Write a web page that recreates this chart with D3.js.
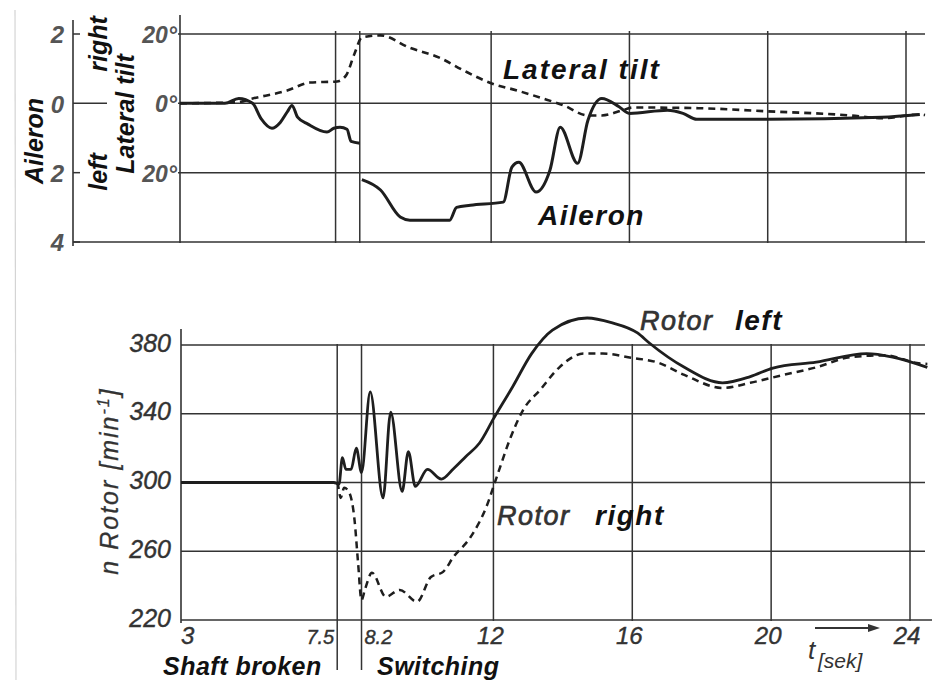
<!DOCTYPE html>
<html>
<head>
<meta charset="utf-8">
<script src="https://cdn.jsdelivr.net/npm/d3@7"></script>
<style>
  body { margin: 0; background: #fff; }
  svg { display: block; }
</style>
</head>
<body>
<div id="chart"></div>
<script>
// time axis (seconds)
const timeTicks = [3, 7.5, 8.2, 12, 16, 20, 24];
const timeLabels = ["3", "7.5", "8.2", "12", "16", "20", "24"];

// top panel scales: aileron (signed, right = +) and lateral tilt (deg)
const aileronTicks = [2, 0, -2, -4];
const aileronLabels = ["2", "0", "2", "4"];
const tiltTicks = [20, 0, -20];
const tiltLabels = ["20°", "0°", "20°"];

// bottom panel
const rpmTicks = [220, 260, 300, 340, 380];

// lateral tilt (dashed), degrees
const tiltT = [3, 4.65, 5.1, 6.1, 6.76, 7.54, 7.8, 8.05, 8.26, 8.8, 9.65, 10.5, 11.2, 12, 12.75, 13.5, 14.1, 14.8, 15.2, 15.8, 16.1, 18, 20, 22.4, 23.3, 24.4, 24.55];
const tiltV = [0, 0.3, 1.4, 3.7, 6, 6.3, 8, 14.4, 19, 19.6, 16, 13.2, 9.5, 5.8, 3.7, 1.4, -0.6, -3.5, -3.5, -2, -1.2, -1.4, -2.3, -3.5, -4.3, -3.2, -3.4];

// aileron (solid), null = pen lifted while switching
const aileronT = [3, 4.3, 4.7, 5.1, 5.35, 5.66, 5.9, 6.1, 6.24, 6.4, 6.7, 7.25, 7.45, 7.63, 7.83, 7.95, 8.2, 8.23, 8.26, 8.8, 9.37, 9.65, 10.8, 11.0, 11.4, 12.35, 12.6, 12.8, 13.3, 13.7, 14.0, 14.5, 14.8, 15.2, 15.7, 16.0, 17.1, 17.55, 17.95, 20, 23.3, 24.4];
const aileronV = [0, 0, 0.14, 0, -0.45, -0.72, -0.55, -0.25, -0.06, -0.4, -0.6, -0.83, -0.72, -0.69, -0.75, -1.1, -1.15, null, -2.2, -2.5, -3.28, -3.37, -3.37, -3.0, -2.94, -2.85, -1.84, -1.7, -2.56, -1.93, -0.69, -1.73, -0.49, 0.14, -0.1, -0.29, -0.2, -0.29, -0.46, -0.46, -0.4, -0.32];

// rotor speed, min^-1
const rotorLeftT = [3, 7.4, 7.55, 7.65, 7.75, 7.9, 8.05, 8.2, 8.45, 8.82, 9.04, 9.37, 9.55, 9.75, 10.1, 10.5, 10.85, 11.2, 11.6, 12, 12.55, 13.1, 13.7, 14.7, 15.4, 16.15, 16.5, 17.5, 18.6, 19.4, 20.05, 21.3, 22.75, 23.5, 24.5];
const rotorLeftV = [300, 300, 299, 314.5, 307.6, 307.6, 320, 305.8, 352.7, 291, 341, 294.8, 318, 297.7, 307.6, 302, 308, 315, 323, 337, 355.6, 375, 388.7, 395.7, 393, 387, 381, 367, 358, 361.6, 366.6, 370, 375, 373, 367];

const rotorRightT = [3, 7.5, 7.6, 7.7, 7.85, 8.0, 8.1, 8.2, 8.3, 8.5, 8.9, 9.3, 9.8, 10.2, 10.55, 10.85, 11.35, 11.8, 12.1, 12.5, 12.85, 13.35, 13.9, 14.6, 15.15, 16.0, 16.7, 17.5, 18.6, 19.4, 20.35, 21.3, 22.3, 23.3, 24.2, 24.5];
const rotorRightV = [300, 300, 291, 297, 294, 278, 253.5, 231.6, 237.8, 247.5, 233.5, 237.5, 230.6, 245, 248, 256.7, 268.5, 286, 303.5, 326.5, 342, 354, 367, 375, 375, 372.5, 370, 362.6, 355, 358, 362.6, 367, 373, 374, 369.5, 369];

const W = 937, H = 684;
const ink = "#1e1e1e";
const grid = "#333";
const font = "'Liberation Sans', Arial, sans-serif";

const svg = d3.select("#chart").append("svg")
  .attr("width", W).attr("height", H)
  .attr("viewBox", `0 0 ${W} ${H}`);

svg.append("rect").attr("width", W).attr("height", H).attr("fill", "#fff");
// scan edge
svg.append("line").attr("x1", 15).attr("x2", 16).attr("y1", 10).attr("y2", 680)
  .attr("stroke", "#d4d4d4").attr("stroke-width", 1.2);

// ---------- top panel ----------
const xTop = d3.scaleLinear().domain([3, 24]).range([180, 906]);
const yAil = d3.scaleLinear().domain([-4, 2]).range([242, 34]);
const yTilt = d3.scaleLinear().domain([-40, 20]).range([242, 34]);

const topG = svg.append("g");

// horizontal grid
topG.selectAll(".hgrid").data([20, 0, -20, -40]).enter().append("line")
  .attr("x1", (d) => (d === -40 ? 73 : 178)).attr("x2", 925)
  .attr("y1", (d) => yTilt(d)).attr("y2", (d) => yTilt(d))
  .attr("stroke", grid).attr("stroke-width", 1.5);

// vertical grid
topG.selectAll(".vgrid").data(timeTicks.slice(1)).enter().append("line")
  .attr("x1", (d) => xTop(d)).attr("x2", (d) => xTop(d))
  .attr("y1", 31).attr("y2", 243)
  .attr("stroke", grid).attr("stroke-width", 1.5);

// tilt axis line
topG.append("line").attr("x1", xTop(3)).attr("x2", xTop(3)).attr("y1", 15).attr("y2", 243)
  .attr("stroke", grid).attr("stroke-width", 1.6);

// aileron axis (separate line on the far left)
topG.append("line").attr("x1", 73).attr("x2", 73).attr("y1", 20).attr("y2", 246)
  .attr("stroke", grid).attr("stroke-width", 1.6);
topG.selectAll(".ailtick").data(aileronTicks).enter().append("line")
  .attr("x1", 73).attr("x2", (d) => (d === 0 ? 107 : 80))
  .attr("y1", (d) => yAil(d)).attr("y2", (d) => yAil(d))
  .attr("stroke", grid).attr("stroke-width", 1.5);

topG.selectAll(".aillab").data(aileronTicks).enter().append("text")
  .attr("x", 64).attr("y", (d) => yAil(d) + 3)
  .attr("text-anchor", "end").attr("dominant-baseline", "middle")
  .attr("font-family", font).attr("font-style", "italic").attr("font-weight", "bold")
  .attr("font-size", 24).attr("fill", "#555")
  .text((d, i) => aileronLabels[i]);

topG.selectAll(".tiltlab").data(tiltTicks).enter().append("text")
  .attr("x", 177).attr("y", (d) => yTilt(d) + 3)
  .attr("text-anchor", "end").attr("dominant-baseline", "middle")
  .attr("font-family", font).attr("font-style", "italic").attr("font-weight", "bold")
  .attr("font-size", 23).attr("fill", "#555")
  .text((d, i) => tiltLabels[i]);

// rotated axis titles
const vtitle = (x, y, txt, size) =>
  svg.append("text")
    .attr("transform", `translate(${x},${y}) rotate(-90)`)
    .attr("text-anchor", "middle")
    .attr("font-family", font).attr("font-style", "italic").attr("font-weight", "bold")
    .attr("font-size", size).attr("fill", "#111")
    .text(txt);
vtitle(43, 141, "Aileron", 25);
vtitle(107, 44, "right", 25);
vtitle(107, 172, "left", 25);
vtitle(134, 114, "Lateral tilt", 25);

const lineTop = (ys) => d3.line()
  .defined((d) => d[1] !== null)
  .x((d) => xTop(d[0])).y((d) => ys(d[1]))
  .curve(d3.curveMonotoneX);

topG.append("path")
  .datum(tiltT.map((t, i) => [t, tiltV[i]]))
  .attr("d", lineTop(yTilt))
  .attr("fill", "none").attr("stroke", ink).attr("stroke-width", 2.6)
  .attr("stroke-dasharray", "7,5");

topG.append("path")
  .datum(aileronT.map((t, i) => [t, aileronV[i]]))
  .attr("d", lineTop(yAil))
  .attr("fill", "none").attr("stroke", ink).attr("stroke-width", 3)
  .attr("stroke-linejoin", "round");

const seriesLabel = (x, y, txt, size, extra) =>
  svg.append("text").attr("x", x).attr("y", y)
    .attr("font-family", font).attr("font-style", "italic").attr("font-weight", "bold")
    .attr("font-size", size).attr("fill", "#111")
    .attr("letter-spacing", extra || 0)
    .text(txt);

seriesLabel(503, 79, "Lateral tilt", 28, 2);
seriesLabel(538, 225, "Aileron", 28, 1.5);

// ---------- bottom panel ----------
const xBot = d3.scaleLinear().domain([3, 24]).range([181, 910]);
const yRpm = d3.scaleLinear().domain([220, 380]).range([620, 345]);

const botG = svg.append("g");

botG.selectAll(".hgrid").data(rpmTicks).enter().append("line")
  .attr("x1", xBot(3)).attr("x2", (d) => (d === 220 ? 932 : 925))
  .attr("y1", (d) => yRpm(d)).attr("y2", (d) => yRpm(d))
  .attr("stroke", grid).attr("stroke-width", 1.5);

botG.selectAll(".vgrid").data(timeTicks.slice(1)).enter().append("line")
  .attr("x1", (d) => xBot(d)).attr("x2", (d) => xBot(d))
  .attr("y1", 344)
  .attr("y2", (d) => (d === 7.5 || d === 8.2 ? 670 : 621))
  .attr("stroke", grid).attr("stroke-width", 1.5);

botG.append("line").attr("x1", xBot(3)).attr("x2", xBot(3)).attr("y1", 329).attr("y2", 623)
  .attr("stroke", grid).attr("stroke-width", 1.6);

botG.selectAll(".rpmlab").data(rpmTicks).enter().append("text")
  .attr("x", 171).attr("y", (d) => yRpm(d))
  .attr("text-anchor", "end").attr("dominant-baseline", "middle")
  .attr("font-family", font).attr("font-style", "italic")
  .attr("font-size", 25).attr("fill", "#333")
  .attr("stroke", "#333").attr("stroke-width", 0.4)
  .text((d) => d);

botG.selectAll(".tlab").data(timeTicks).enter().append("text")
  .attr("x", (d) => (d === 7.5 ? xBot(d) - 3 : d === 8.2 ? xBot(d) + 3 : d === 3 ? xBot(d) : xBot(d) - 3))
  .attr("y", 644)
  .attr("text-anchor", (d) => (d === 7.5 ? "end" : d === 8.2 || d === 3 ? "start" : "middle"))
  .attr("font-family", font).attr("font-style", "italic")
  .attr("font-size", (d) => (d === 7.5 || d === 8.2 ? 20 : 24)).attr("fill", "#333")
  .attr("stroke", "#333").attr("stroke-width", 0.4)
  .text((d, i) => timeLabels[i]);

// y title with superscript
const yt = svg.append("text")
  .attr("transform", "translate(118,481) rotate(-90)")
  .attr("text-anchor", "middle")
  .attr("font-family", font).attr("font-style", "italic")
  .attr("font-size", 25).attr("fill", "#333").attr("letter-spacing", 2)
  .attr("stroke", "#333").attr("stroke-width", 0.3);
yt.append("tspan").text("n Rotor [min");
yt.append("tspan").attr("dy", -9).attr("font-size", 16).text("-1");
yt.append("tspan").attr("dy", 9).text("]");

const lineBot = d3.line()
  .x((d) => xBot(d[0])).y((d) => yRpm(d[1]))
  .curve(d3.curveMonotoneX);

botG.append("path")
  .datum(rotorRightT.map((t, i) => [t, rotorRightV[i]]))
  .attr("d", lineBot)
  .attr("fill", "none").attr("stroke", ink).attr("stroke-width", 2.5)
  .attr("stroke-dasharray", "7,5");

botG.append("path")
  .datum(rotorLeftT.map((t, i) => [t, rotorLeftV[i]]))
  .attr("d", lineBot)
  .attr("fill", "none").attr("stroke", ink).attr("stroke-width", 2.8)
  .attr("stroke-linejoin", "round");

// series labels: "Rotor" is hand-lettered grey, side word bold
const rotorLabel = (x, y, side, sideX) => {
  svg.append("text").attr("x", x).attr("y", y)
    .attr("font-family", font).attr("font-style", "italic")
    .attr("font-size", 27).attr("fill", "#333").attr("letter-spacing", 1.5)
    .attr("stroke", "#333").attr("stroke-width", 0.7)
    .text("Rotor");
  seriesLabel(sideX, y, side, 28, 1.5);
};
rotorLabel(640, 330, "left", 735);
rotorLabel(497, 525, "right", 595);

// bottom captions
seriesLabel(163, 675, "Shaft broken", 25, 0.5);
seriesLabel(377, 675, "Switching", 25, 0.5);

// t [sek] with arrow
svg.append("line").attr("x1", 815).attr("x2", 872).attr("y1", 628).attr("y2", 628)
  .attr("stroke", "#333").attr("stroke-width", 1.8);
svg.append("path").attr("d", "M868,624 L880,628 L868,632 Z").attr("fill", "#333");
svg.append("text").attr("x", 808).attr("y", 659)
  .attr("font-family", font).attr("font-style", "italic")
  .attr("font-size", 26).attr("fill", "#333").text("t");
svg.append("text").attr("x", 818).attr("y", 668)
  .attr("font-family", font).attr("font-style", "italic")
  .attr("font-size", 21).attr("fill", "#333").text("[sek]");
</script>
</body>
</html>
